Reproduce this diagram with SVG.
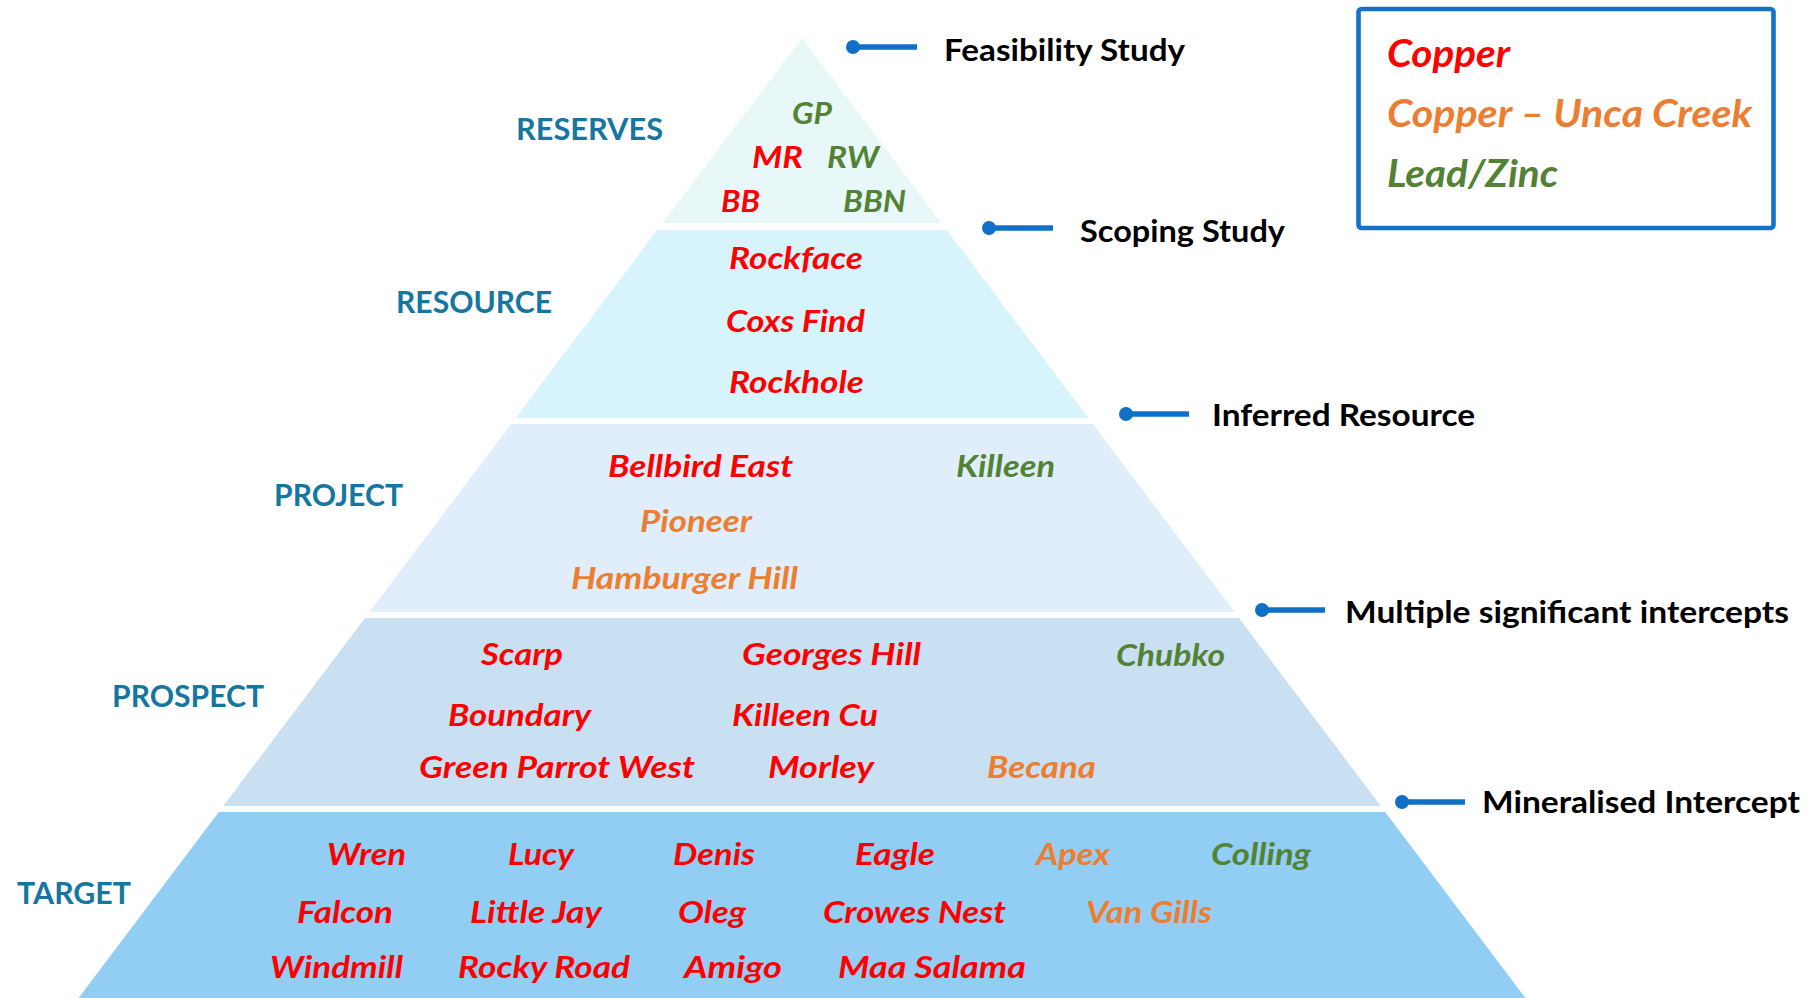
<svg xmlns="http://www.w3.org/2000/svg" width="1820" height="998" viewBox="0 0 1820 998">
<style>
  text { font-family: Lato, "Open Sans", "Liberation Sans", sans-serif; font-weight: bold; }
  .it { font-style: italic; font-size: 30.5px; }
  .red { fill: #FF0000; }
  .org { fill: #ED7D31; }
  .grn { fill: #548235; }
  .tier { font-size: 29.5px; fill: #15779F; }
  .ms { font-size: 31px; fill: #000000; }
  .lg { font-style: italic; font-size: 38px; }
  .lead { stroke: #1070C8; stroke-width: 5.5; fill: none; }
  .dot { fill: #1070C8; }
</style>
<rect width="1820" height="998" fill="#FFFFFF"/>

<g id="reserves">
  <polygon points="802,38 941.4,223 662.6,223" fill="#E8F7F8"/>
  <text class="tier" x="516" y="140" textLength="147" lengthAdjust="spacingAndGlyphs">RESERVES</text>
  <text class="it grn" x="792" y="124" textLength="40" lengthAdjust="spacingAndGlyphs">GP</text>
  <text class="it red" x="752" y="168" textLength="51" lengthAdjust="spacingAndGlyphs">MR</text>
  <text class="it grn" x="827" y="168" textLength="52" lengthAdjust="spacingAndGlyphs">RW</text>
  <text class="it red" x="721" y="212" textLength="39" lengthAdjust="spacingAndGlyphs">BB</text>
  <text class="it grn" x="843" y="212" textLength="63" lengthAdjust="spacingAndGlyphs">BBN</text>
</g>

<g id="resource">
  <polygon points="657.3,230 946.7,230 1088.3,418 515.7,418" fill="#D7F3FB"/>
  <text class="tier" x="396" y="313" textLength="156" lengthAdjust="spacingAndGlyphs">RESOURCE</text>
  <text class="it red" x="729" y="269" textLength="134" lengthAdjust="spacingAndGlyphs">Rockface</text>
  <text class="it red" x="726" y="332" textLength="139" lengthAdjust="spacingAndGlyphs">Coxs Find</text>
  <text class="it red" x="729" y="393" textLength="135" lengthAdjust="spacingAndGlyphs">Rockhole</text>
</g>

<g id="project">
  <polygon points="511.1,424 1092.9,424 1234.5,612 369.5,612" fill="#DFEEFA"/>
  <text class="tier" x="274" y="506" textLength="129" lengthAdjust="spacingAndGlyphs">PROJECT</text>
  <text class="it red" x="608" y="477" textLength="185" lengthAdjust="spacingAndGlyphs">Bellbird East</text>
  <text class="it grn" x="956" y="477" textLength="99" lengthAdjust="spacingAndGlyphs">Killeen</text>
  <text class="it org" x="640" y="532" textLength="112" lengthAdjust="spacingAndGlyphs">Pioneer</text>
  <text class="it org" x="571" y="589" textLength="227" lengthAdjust="spacingAndGlyphs">Hamburger Hill</text>
</g>

<g id="prospect">
  <polygon points="365,618 1239,618 1380.7,806 223.3,806" fill="#C9E0F3"/>
  <text class="tier" x="112" y="707" textLength="152" lengthAdjust="spacingAndGlyphs">PROSPECT</text>
  <text class="it red" x="481" y="665" textLength="82" lengthAdjust="spacingAndGlyphs">Scarp</text>
  <text class="it red" x="742" y="665" textLength="179" lengthAdjust="spacingAndGlyphs">Georges Hill</text>
  <text class="it grn" x="1116" y="666" textLength="109" lengthAdjust="spacingAndGlyphs">Chubko</text>
  <text class="it red" x="448" y="726" textLength="143" lengthAdjust="spacingAndGlyphs">Boundary</text>
  <text class="it red" x="732" y="726" textLength="146" lengthAdjust="spacingAndGlyphs">Killeen Cu</text>
  <text class="it red" x="419" y="778" textLength="276" lengthAdjust="spacingAndGlyphs">Green Parrot West</text>
  <text class="it red" x="768" y="778" textLength="106" lengthAdjust="spacingAndGlyphs">Morley</text>
  <text class="it org" x="987" y="778" textLength="109" lengthAdjust="spacingAndGlyphs">Becana</text>
</g>

<g id="target">
  <polygon points="218.8,812 1385.2,812 1525.4,998 78.6,998" fill="#92CEF3"/>
  <text class="tier" x="17" y="904" textLength="114" lengthAdjust="spacingAndGlyphs">TARGET</text>
  <text class="it red" x="327" y="865" textLength="79" lengthAdjust="spacingAndGlyphs">Wren</text>
  <text class="it red" x="508" y="865" textLength="66" lengthAdjust="spacingAndGlyphs">Lucy</text>
  <text class="it red" x="673" y="865" textLength="82" lengthAdjust="spacingAndGlyphs">Denis</text>
  <text class="it red" x="855" y="865" textLength="80" lengthAdjust="spacingAndGlyphs">Eagle</text>
  <text class="it org" x="1036" y="865" textLength="74" lengthAdjust="spacingAndGlyphs">Apex</text>
  <text class="it grn" x="1211" y="865" textLength="100" lengthAdjust="spacingAndGlyphs">Colling</text>
  <text class="it red" x="297" y="923" textLength="96" lengthAdjust="spacingAndGlyphs">Falcon</text>
  <text class="it red" x="470" y="923" textLength="132" lengthAdjust="spacingAndGlyphs">Little Jay</text>
  <text class="it red" x="678" y="923" textLength="68" lengthAdjust="spacingAndGlyphs">Oleg</text>
  <text class="it red" x="823" y="923" textLength="183" lengthAdjust="spacingAndGlyphs">Crowes Nest</text>
  <text class="it org" x="1086" y="923" textLength="126" lengthAdjust="spacingAndGlyphs">Van Gills</text>
  <text class="it red" x="270" y="978" textLength="133" lengthAdjust="spacingAndGlyphs">Windmill</text>
  <text class="it red" x="458" y="978" textLength="172" lengthAdjust="spacingAndGlyphs">Rocky Road</text>
  <text class="it red" x="684" y="978" textLength="98" lengthAdjust="spacingAndGlyphs">Amigo</text>
  <text class="it red" x="838" y="978" textLength="188" lengthAdjust="spacingAndGlyphs">Maa Salama</text>
</g>

<g id="connectors">
  <line class="lead" x1="852" y1="47" x2="917" y2="47"/>
  <circle class="dot" cx="853" cy="47" r="7"/>
  <line class="lead" x1="988" y1="228" x2="1053" y2="228"/>
  <circle class="dot" cx="989" cy="228" r="7"/>
  <line class="lead" x1="1125" y1="414" x2="1189" y2="414"/>
  <circle class="dot" cx="1126" cy="414" r="7"/>
  <line class="lead" x1="1261" y1="610" x2="1325" y2="610"/>
  <circle class="dot" cx="1262" cy="610" r="7"/>
  <line class="lead" x1="1401" y1="802" x2="1465" y2="802"/>
  <circle class="dot" cx="1402" cy="802" r="7"/>
</g>

<g id="milestones">
  <text class="ms" x="944" y="61" textLength="241" lengthAdjust="spacingAndGlyphs">Feasibility Study</text>
  <text class="ms" x="1080" y="242" textLength="205" lengthAdjust="spacingAndGlyphs">Scoping Study</text>
  <text class="ms" x="1212" y="426" textLength="263" lengthAdjust="spacingAndGlyphs">Inferred Resource</text>
  <text class="ms" x="1345" y="623" textLength="444" lengthAdjust="spacingAndGlyphs">Multiple significant intercepts</text>
  <text class="ms" x="1482" y="813" textLength="318" lengthAdjust="spacingAndGlyphs">Mineralised Intercept</text>
</g>

<g id="legend">
  <rect x="1358.5" y="9" width="415" height="219" rx="3" fill="#FFFFFF" stroke="#1572C9" stroke-width="4.6"/>
  <text class="lg red" x="1387" y="67" textLength="123" lengthAdjust="spacingAndGlyphs">Copper</text>
  <text class="lg org" x="1387" y="127" textLength="365" lengthAdjust="spacingAndGlyphs">Copper – Unca Creek</text>
  <text class="lg grn" x="1387" y="187" textLength="171" lengthAdjust="spacingAndGlyphs">Lead/Zinc</text>
</g>
</svg>
